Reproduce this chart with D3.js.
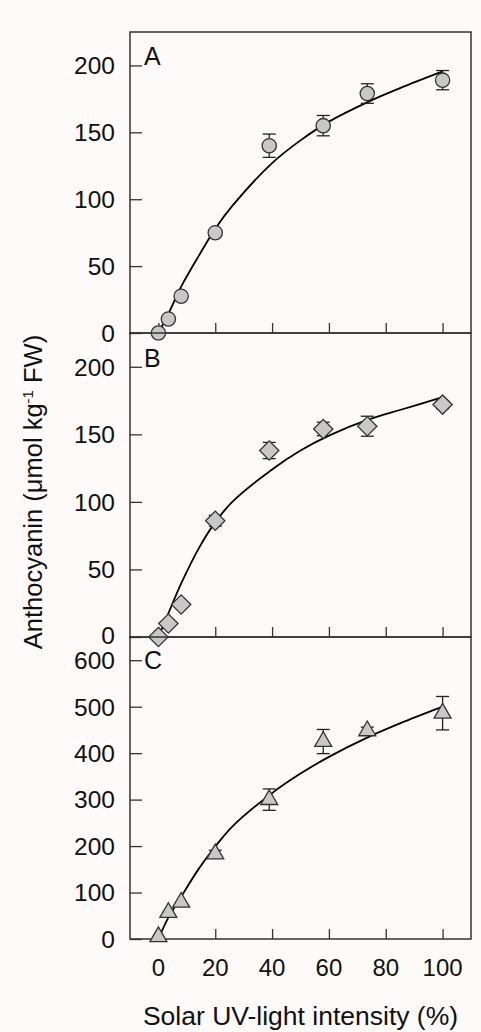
<!DOCTYPE html>
<html>
<head>
<meta charset="utf-8">
<script src="https://cdn.jsdelivr.net/npm/d3@7"></script>
<style>
  body { margin: 0; background: #fdfaf9; }
  svg { display: block; }
  text { font-family: Arial, "Liberation Sans", sans-serif; fill: #111; }
</style>
</head>
<body>
<div id="chart"></div>
<script>
// UV levels (% of solar UV) shared by all panels
const uvLevels = [0, 3.5, 8, 20, 39, 58, 73.5, 100];

// Panel A (circles)
const valuesA = [0, 10.5, 27.5, 75, 140, 155, 179, 189];
const errorsA = [0, 0, 0, 2, 8.7, 7.6, 7.3, 7.2];
// Panel B (diamonds)
const valuesB = [0, 10, 24, 86, 138, 154, 156, 172];
const errorsB = [0, 0, 0, 4, 6, 5, 7.4, 3];
// Panel C (triangles)
const valuesC = [5, 57, 79, 183, 300, 425, 448, 486];
const errorsC = [0, 0, 0, 8, 23, 26, 8, 36];

// fitted curves
const curveX = [0, 3.4, 8.1, 14.3, 20, 26, 40, 50, 60, 74, 85, 100];
const curveA = [0, 14, 35, 58, 78, 95, 127, 144, 158, 173, 183, 195.5];
const curveB = [0, 17, 40, 66, 85, 100, 124, 138, 149, 161, 168, 177.5];
const curveC = [0, 45, 92, 152, 199, 242, 314, 356, 392, 435, 464, 500];

const xTicks = [0, 20, 40, 60, 80, 100];
const yTicksAB = [0, 50, 100, 150, 200];
const yTicksC = [0, 100, 200, 300, 400, 500, 600];

const panels = [
  { label: 'A', values: valuesA, errors: errorsA, curve: curveA, max: 225, ticks: yTicksAB, shape: 'circle', top: 32, bottom: 333 },
  { label: 'B', values: valuesB, errors: errorsB, curve: curveB, max: 225, ticks: yTicksAB, shape: 'diamond', top: 333, bottom: 637 },
  { label: 'C', values: valuesC, errors: errorsC, curve: curveC, max: 650, ticks: yTicksC, shape: 'triangle', top: 637, bottom: 939 }
];

const width = 481, height = 1032;
const left = 130, right = 471;

const svg = d3.select('#chart')
  .append('svg')
  .attr('width', width)
  .attr('height', height);

const x = d3.scaleLinear().domain([-10, 110]).range([left, right]);

const symbols = {
  circle: d3.symbol(d3.symbolCircle, 160),
  diamond: d3.symbol(d3.symbolSquare, 185),
  triangle: d3.symbol(d3.symbolTriangle, 125)
};

panels.forEach(p => {
  const y = d3.scaleLinear().domain([0, p.max]).range([p.bottom, p.top]);
  const g = svg.append('g');

  // y axis: ticks inside, labels outside
  const yAxis = g.append('g')
    .attr('transform', `translate(${left},0)`)
    .call(d3.axisRight(y).tickValues(p.ticks).tickSize(12).tickFormat(''));
  yAxis.select('.domain').remove();
  yAxis.selectAll('line').attr('stroke', '#333').attr('stroke-width', 1.3);

  g.selectAll('.ylab')
    .data(p.ticks)
    .enter().append('text')
    .attr('x', left - 15)
    .attr('y', d => y(d) - (d === 0 && p.label === 'B' ? 1.5 : 0))
    .attr('dy', '0.36em')
    .attr('text-anchor', 'end')
    .style('font-size', '24.5px')
    .text(d => d);

  // x ticks at panel bottom, pointing up
  const xAxis = g.append('g')
    .attr('transform', `translate(0,${p.bottom})`)
    .call(d3.axisTop(x).tickValues(xTicks).tickSize(10).tickFormat(''));
  xAxis.select('.domain').remove();
  xAxis.selectAll('line').attr('stroke', '#333').attr('stroke-width', 1.3);

  // frame
  g.append('rect')
    .attr('x', left)
    .attr('y', p.top)
    .attr('width', right - left)
    .attr('height', p.bottom - p.top)
    .attr('fill', 'none')
    .attr('stroke', '#333')
    .attr('stroke-width', 1.5);

  // fitted curve
  const line = d3.line()
    .x(d => x(d[0]))
    .y(d => y(d[1]))
    .curve(d3.curveCatmullRom.alpha(0.5));
  g.append('path')
    .datum(d3.zip(curveX, p.curve))
    .attr('d', line)
    .attr('fill', 'none')
    .attr('stroke', '#000')
    .attr('stroke-width', 1.8);

  const pts = uvLevels.map((u, i) => ({ u: u, v: p.values[i], e: p.errors[i] }));

  // error bars
  const eb = g.selectAll('.err')
    .data(pts.filter(d => d.e > 0))
    .enter().append('g')
    .attr('stroke', '#222')
    .attr('stroke-width', 1.3);
  eb.append('line')
    .attr('x1', d => x(d.u)).attr('x2', d => x(d.u))
    .attr('y1', d => y(d.v - d.e)).attr('y2', d => y(d.v + d.e));
  eb.append('line')
    .attr('x1', d => x(d.u) - 6.5).attr('x2', d => x(d.u) + 6.5)
    .attr('y1', d => y(d.v + d.e)).attr('y2', d => y(d.v + d.e));
  eb.append('line')
    .attr('x1', d => x(d.u) - 6.5).attr('x2', d => x(d.u) + 6.5)
    .attr('y1', d => y(d.v - d.e)).attr('y2', d => y(d.v - d.e));

  // markers
  g.selectAll('.pt')
    .data(pts)
    .enter().append('path')
    .attr('d', symbols[p.shape]())
    .attr('transform', d => `translate(${x(d.u)},${y(d.v)})` + (p.shape === 'diamond' ? ' rotate(45)' : ''))
    .attr('fill', '#c8c8c8')
    .attr('stroke', '#333')
    .attr('stroke-width', 1.3);

  // panel letter
  g.append('text')
    .attr('x', left + 14)
    .attr('y', y(p.ticks[p.ticks.length - 1]))
    .attr('dy', p.label === 'C' ? '0.36em' : '0')
    .style('font-size', '25px')
    .text(p.label);
});

// x tick labels under bottom panel
svg.selectAll('.xlab')
  .data(xTicks)
  .enter().append('text')
  .attr('x', d => x(d))
  .attr('y', 976)
  .attr('text-anchor', 'middle')
  .style('font-size', '24px')
  .text(d => d);

// axis titles
svg.append('text')
  .attr('x', 300.5)
  .attr('y', 1025)
  .attr('text-anchor', 'middle')
  .style('font-size', '26.5px')
  .text('Solar UV-light intensity (%)');

const yTitle = svg.append('text')
  .attr('transform', 'translate(42,492) rotate(-90)')
  .attr('text-anchor', 'middle')
  .style('font-size', '25.5px');
yTitle.append('tspan').text('Anthocyanin (\u03bcmol kg');
yTitle.append('tspan').attr('dy', -9).style('font-size', '15px').text('-1');
yTitle.append('tspan').attr('dy', 9).text(' FW)');
</script>
</body>
</html>
